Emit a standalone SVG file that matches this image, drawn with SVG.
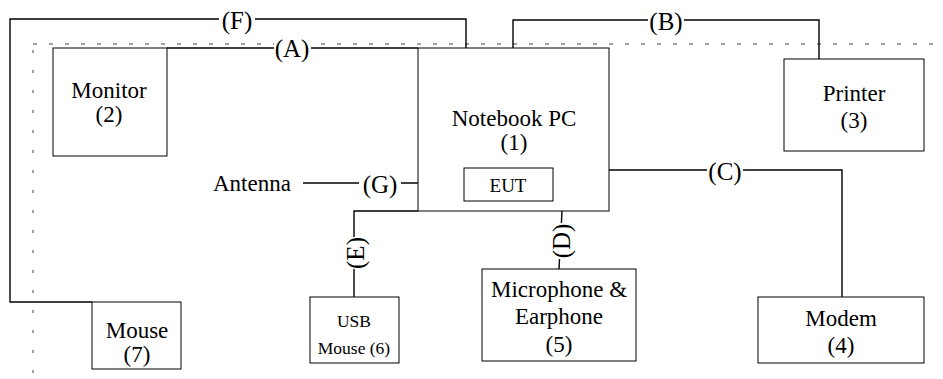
<svg xmlns="http://www.w3.org/2000/svg" width="943" height="379" viewBox="0 0 943 379" font-family="'Liberation Serif', 'DejaVu Serif', serif">
<style>
.box{fill:#fff;stroke:#000;stroke-width:1}
.t{font-family:'Liberation Serif','DejaVu Serif',serif;font-size:23px;fill:#000;text-anchor:middle}
.s{font-size:17.5px}
.e{font-size:19px}
.c{fill:none;stroke:#000;stroke-width:1.4}
.lb{font-family:'Liberation Serif','DejaVu Serif',serif;font-size:25px;fill:#000;text-anchor:middle;dominant-baseline:central}
.bg{fill:#fff}
.dash{fill:none;stroke:#444;stroke-width:1}
</style>
<rect width="943" height="379" fill="#fff"/>
<g id="boundary">
<line class="dash" x1="33" y1="44" x2="943" y2="44" stroke-dasharray="4 12"/>
<line class="dash" x1="33" y1="50" x2="33" y2="379" stroke-dasharray="3 17"/>
</g>
<g id="connectors">
<polyline class="c" points="466,48 466,19 10,19 10,302 92,302"/>
<polyline class="c" points="167,48 418,48"/>
<polyline class="c" points="513,48 513,20 819,20 819,59"/>
<polyline class="c" points="609,170 842,170 842,297"/>
<polyline class="c" points="562,211 559,269"/>
<polyline class="c" points="418,211 354,211 354,297"/>
<polyline class="c" points="303,183 464,183"/>
<rect class="bg" x="219" y="8" width="36" height="24"/>
<text class="lb" x="237" y="20">(F)</text>
<rect class="bg" x="274" y="36" width="37" height="24"/>
<text class="lb" x="292" y="48">(A)</text>
<rect class="bg" x="648" y="8" width="36" height="24"/>
<text class="lb" x="666" y="21">(B)</text>
<rect class="bg" x="707" y="158" width="36" height="24"/>
<text class="lb" x="725" y="171">(C)</text>
<rect class="bg" x="359" y="171" width="42" height="24"/>
<text class="lb" x="380" y="184">(G)</text>
<rect class="bg" x="342" y="237" width="24" height="32"/>
<text class="lb" x="0" y="0" transform="translate(355,253) rotate(-90)">(E)</text>
<rect class="bg" x="548" y="223" width="24" height="36"/>
<text class="lb" x="0" y="0" transform="translate(561,241) rotate(-90)">(D)</text>
</g>
<g id="notebook">
<rect class="box" x="418" y="48" width="191" height="163"/>
<text class="t" x="514" y="126">Notebook PC</text>
<text class="t" x="514" y="150">(1)</text>
</g>
<g id="eut">
<rect class="box" x="464" y="168" width="89" height="33"/>
<text class="t e" x="508" y="192">EUT</text>
</g>
<g id="monitor">
<rect class="box" x="53" y="48" width="114" height="108"/>
<text class="t" x="109" y="98">Monitor</text>
<text class="t" x="109" y="122">(2)</text>
</g>
<g id="printer">
<rect class="box" x="784" y="59" width="140" height="92"/>
<text class="t" x="854" y="101">Printer</text>
<text class="t" x="854" y="128">(3)</text>
</g>
<g id="modem">
<rect class="box" x="758" y="297" width="166" height="66"/>
<text class="t" x="841" y="326">Modem</text>
<text class="t" x="841" y="353">(4)</text>
</g>
<g id="mic">
<rect class="box" x="482" y="269" width="154" height="92"/>
<text class="t" x="559" y="297">Microphone &amp;</text>
<text class="t" x="559" y="324">Earphone</text>
<text class="t" x="559" y="352">(5)</text>
</g>
<g id="usbmouse">
<rect class="box" x="310" y="297" width="89" height="66"/>
<text class="t s" x="354" y="327">USB</text>
<text class="t s" x="354" y="354">Mouse (6)</text>
</g>
<g id="mouse">
<rect class="box" x="92" y="302" width="89" height="67"/>
<text class="t" x="137" y="338">Mouse</text>
<text class="t" x="137" y="362">(7)</text>
</g>
<g id="antenna">
<text class="t" x="213" y="191" style="text-anchor:start">Antenna</text>
</g>
</svg>
